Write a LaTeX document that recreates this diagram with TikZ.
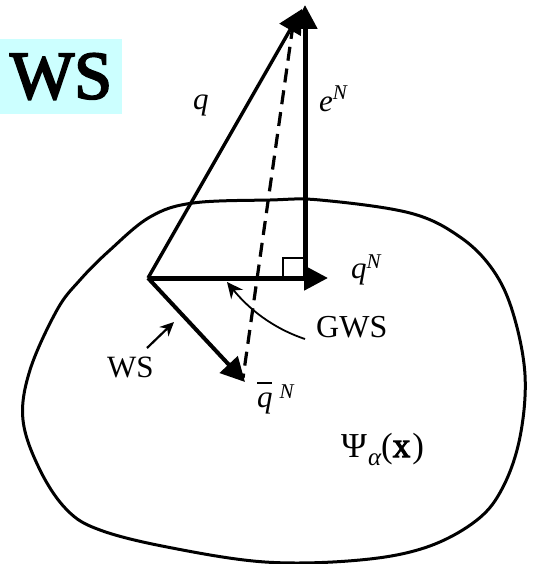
\documentclass[tikz,border=0pt]{standalone}
\usepackage{fontspec}
\setmainfont{Liberation Serif}
\newfontfamily\hdrfont{Liberation Serif}[BoldFont={Liberation Serif}, BoldFeatures={FakeBold=3}]
\usetikzlibrary{arrows.meta}
\definecolor{wscyan}{HTML}{CCFFFF}
\begin{document}
\begin{tikzpicture}[x=1pt,y=-1pt,
  big/.style={-{Triangle[length=24pt,width=24pt]}},
  lbl/.style={inner sep=0pt, anchor=base west, font=\fontsize{31}{36}\selectfont},
  thinarrow/.style={-{Stealth[length=16pt,width=15pt]}},
]
\useasboundingbox (0,0) rectangle (533,564);
% header box
\node[fill=wscyan, minimum width=122pt, minimum height=75pt, inner sep=0pt] (hdr) at (61,76.5)
  {\hdrfont\fontsize{68}{68}\selectfont\bfseries WS};
% blob
\draw[line width=3pt] plot[smooth cycle, tension=0.6] coordinates {
 (270,200) (320,200) (410,213) (460,237) (493,270) (513,313) (525,375)
 (520,437) (503,487) (477,520) (427,547) (360,560) (265,562) (167,547)
 (100,530) (67,510) (40,470) (23,420) (30,370) (57,310) (80,280)
 (110,250) (150,217) (193,203)};
% points
\coordinate (O) at (148,278);
\coordinate (qN) at (328,278);
\coordinate (eB) at (305,278);
\coordinate (eT) at (305,5);
\coordinate (qT) at (302,9);
\coordinate (qb) at (245,382);
\coordinate (dT) at (293,25);
\coordinate (dB) at (243,378);
\coordinate (ra1) at (283,278);
\coordinate (ra2) at (283,258);
\coordinate (ra3) at (305,258);
\coordinate (gS) at (305,339);
\coordinate (gE) at (227,282);
\coordinate (wS) at (147,348);
\coordinate (wE) at (174,322);
% vectors
\draw[big, line width=3.4pt] (O) -- (qT);
\draw[big, line width=5pt] (O) -- (qN);
\draw[big, line width=5pt] (eB) -- (eT);
\draw[big, line width=4pt] (O) -- (qb);
\draw[line width=3.2pt, dash pattern=on 14pt off 8pt] (dT) -- (dB);
\draw[line width=2.2pt] (ra1) -- (ra2) -- (ra3);
\draw[line width=1.8pt, thinarrow] (gS) .. controls (272,328) and (248,308) .. (gE);
\draw[line width=2.2pt, -{Stealth[length=14pt,width=13pt]}] (wS) -- (wE);
% labels
\node[lbl] (lq) at (193,110) {\itshape q};
\node[lbl] (leN) at (319,112) {\itshape e\raisebox{12pt}{\fontsize{21}{21}\selectfont N}};
\node[lbl] (lqN) at (351,278) {\itshape q\raisebox{10pt}{\fontsize{21}{21}\selectfont N}};
\node[lbl] (lqb) at (257,407) {\itshape\rlap{\rule[23pt]{15pt}{1.8pt}}q\hspace{7pt}\raisebox{9pt}{\fontsize{21}{21}\selectfont N}};
\node[lbl, font=\fontsize{32}{36}\selectfont] (lgws) at (316,337) {GWS};
\node[lbl] (lws) at (107,377) {WS};
\node[lbl, font=\fontsize{35}{36}\selectfont] (lpsi) at (341,457) {Ψ\hspace{1pt}\raisebox{-8pt}{\fontsize{25}{25}\selectfont\itshape α}({\hdrfont\bfseries x}\hspace{2pt})};
\end{tikzpicture}
\end{document}
